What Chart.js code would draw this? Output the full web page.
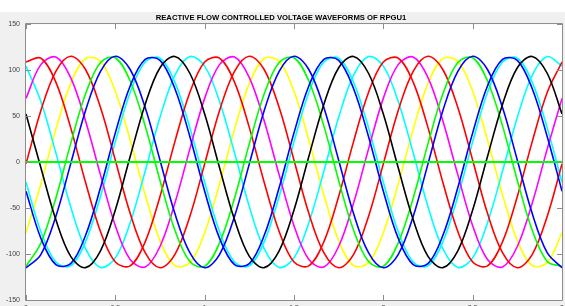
<!DOCTYPE html>
<html>
<head>
<meta charset="utf-8">
<script src="https://cdn.jsdelivr.net/npm/chart.js@4.4.0/dist/chart.umd.min.js"></script>
<style>
  html, body { margin: 0; padding: 0; overflow: hidden; background: #ffffff; width: 565px; height: 306px; }
  #wrap { width: 565px; height: 318px; }
</style>
</head>
<body>
<div id="wrap"><canvas id="c" width="565" height="318"></canvas></div>
<script>
const titleText = 'REACTIVE FLOW CONTROLLED VOLTAGE WAVEFORMS OF RPGU1';
const xTickLabels = ['0', '0.5', '1', '1.5', '2', '2.5', '3'];
const yTickLabels = ['-150', '-100', '-50', '0', '50', '100', '150'];

const xs = [0, 0.083, 0.167, 0.25, 0.333, 0.417, 0.5, 0.583, 0.667, 0.75, 0.833, 0.917,
            1, 1.083, 1.167, 1.25, 1.333, 1.417, 1.5, 1.583, 1.667, 1.75, 1.833, 1.917,
            2, 2.083, 2.167, 2.25, 2.333, 2.417, 2.5, 2.583, 2.667, 2.75, 2.833, 2.917, 3];

const redA = [108.7, 112.9, 86.8, 37.4, -21.9, -75.5, -108.7, -112.9, -86.8, -37.4, 21.9, 75.5,
              108.7, 112.9, 86.8, 37.4, -21.9, -75.5, -108.7, -112.9, -86.8, -37.4, 21.9, 75.5,
              108.7, 112.9, 86.8, 37.4, -21.9, -75.5, -108.7, -112.9, -86.8, -37.4, 21.9, 75.5, 108.7];
const magenta = [69.2, 105.9, 114.1, 91.8, 44.9, -14.0, -69.2, -105.9, -114.1, -91.8, -44.9, 14.0,
                 69.2, 105.9, 114.1, 91.8, 44.9, -14.0, -69.2, -105.9, -114.1, -91.8, -44.9, 14.0,
                 69.2, 105.9, 114.1, 91.8, 44.9, -14.0, -69.2, -105.9, -114.1, -91.8, -44.9, 14.0, 69.2];
const redB = [-2.0, 55.8, 98.6, 115.0, 100.6, 59.2, 2.0, -55.8, -98.6, -115.0, -100.6, -59.2,
              -2.0, 55.8, 98.6, 115.0, 100.6, 59.2, 2.0, -55.8, -98.6, -115.0, -100.6, -59.2,
              -2.0, 55.8, 98.6, 115.0, 100.6, 59.2, 2.0, -55.8, -98.6, -115.0, -100.6, -59.2, -2.0];
const yellow = [-76.9, -23.9, 35.5, 85.5, 112.5, 109.4, 76.9, 23.9, -35.5, -85.5, -112.5, -109.4,
                -76.9, -23.9, 35.5, 85.5, 112.5, 109.4, 76.9, 23.9, -35.5, -85.5, -112.5, -109.4,
                -76.9, -23.9, 35.5, 85.5, 112.5, 109.4, 76.9, 23.9, -35.5, -85.5, -112.5, -109.4, -76.9];
const green = [-113.3, -88.1, -39.3, 20.0, 73.9, 108.1, 113.3, 88.1, 39.3, -20.0, -73.9, -108.1,
               -113.3, -88.1, -39.3, 20.0, 73.9, 108.1, 113.3, 88.1, 39.3, -20.0, -73.9, -108.1,
               -113.3, -88.1, -39.3, 20.0, 73.9, 108.1, 113.3, 88.1, 39.3, -20.0, -73.9, -108.1, -113.3];
const blueA = [-115.0, -100.6, -59.2, -2.0, 55.8, 98.6, 115.0, 100.6, 59.2, 2.0, -55.8, -98.6,
               -115.0, -100.6, -59.2, -2.0, 55.8, 98.6, 115.0, 100.6, 59.2, 2.0, -55.8, -98.6,
               -115.0, -100.6, -59.2, -2.0, 55.8, 98.6, 115.0, 100.6, 59.2, 2.0, -55.8, -98.6, -115.0];
const blueB = [-31.7, -82.7, -111.6, -110.5, -79.9, -27.8, 31.7, 82.7, 111.6, 110.5, 79.9, 27.8,
               -31.7, -82.7, -111.6, -110.5, -79.9, -27.8, 31.7, 82.7, 111.6, 110.5, 79.9, 27.8,
               -31.7, -82.7, -111.6, -110.5, -79.9, -27.8, 31.7, 82.7, 111.6, 110.5, 79.9, 27.8, -31.7];
const cyanA = [-21.9, -75.5, -108.7, -112.9, -86.8, -37.4, 21.9, 75.5, 108.7, 112.9, 86.8, 37.4,
               -21.9, -75.5, -108.7, -112.9, -86.8, -37.4, 21.9, 75.5, 108.7, 112.9, 86.8, 37.4,
               -21.9, -75.5, -108.7, -112.9, -86.8, -37.4, 21.9, 75.5, 108.7, 112.9, 86.8, 37.4, -21.9];
const black = [52.2, -6.0, -62.6, -102.5, -114.8, -96.5, -52.2, 6.0, 62.6, 102.5, 114.8, 96.5,
               52.2, -6.0, -62.6, -102.5, -114.8, -96.5, -52.2, 6.0, 62.6, 102.5, 114.8, 96.5,
               52.2, -6.0, -62.6, -102.5, -114.8, -96.5, -52.2, 6.0, 62.6, 102.5, 114.8, 96.5, 52.2];
const cyanB = [104.2, 66.0, 10.0, -48.6, -94.2, -114.6, -104.2, -66.0, -10.0, 48.6, 94.2, 114.6,
               104.2, 66.0, 10.0, -48.6, -94.2, -114.6, -104.2, -66.0, -10.0, 48.6, 94.2, 114.6,
               104.2, 66.0, 10.0, -48.6, -94.2, -114.6, -104.2, -66.0, -10.0, 48.6, 94.2, 114.6, 104.2];
const zeroLine = [0, 0, 0, 0, 0, 0, 0, 0, 0, 0, 0, 0, 0, 0, 0, 0, 0, 0, 0, 0, 0, 0, 0, 0,
                  0, 0, 0, 0, 0, 0, 0, 0, 0, 0, 0, 0, 0];

const seriesList = [
  { name: 'zero', values: zeroLine, color: '#00ff00', width: 2.2 },
  { name: 'black', values: black, color: '#000000', width: 1.6 },
  { name: 'blueA', values: blueA, color: '#0000ff', width: 1.6 },
  { name: 'blueB', values: blueB, color: '#0000ff', width: 1.6 },
  { name: 'green', values: green, color: '#00ff00', width: 1.6 },
  { name: 'redA', values: redA, color: '#ff0000', width: 1.6 },
  { name: 'redB', values: redB, color: '#ff0000', width: 1.6 },
  { name: 'magenta', values: magenta, color: '#ff00ff', width: 1.6 },
  { name: 'cyanA', values: cyanA, color: '#00ffff', width: 1.6 },
  { name: 'cyanB', values: cyanB, color: '#00ffff', width: 1.6 },
  { name: 'yellow', values: yellow, color: '#ffff00', width: 1.6 }
];

const datasets = seriesList.map(s => ({
  label: s.name,
  data: xs.map((x, i) => ({ x: x, y: s.values[i] })),
  borderColor: s.color,
  borderWidth: s.width,
  pointRadius: 0,
  tension: s.name === 'zero' ? 0 : 0.35,
  fill: false
}));

const bgPlugin = {
  id: 'bg',
  beforeDraw(chart) {
    const { ctx, width, height, chartArea } = chart;
    ctx.save();
    ctx.fillStyle = '#ffffff';
    ctx.fillRect(0, 0, width, height);
    ctx.fillStyle = '#f0f0f0';
    ctx.fillRect(0, 12, width, height - 12);
    ctx.fillStyle = '#ffffff';
    ctx.fillRect(chartArea.left, chartArea.top, chartArea.right - chartArea.left, chartArea.bottom - chartArea.top);
    ctx.restore();
  }
};

const boxPlugin = {
  id: 'box',
  afterDraw(chart) {
    const { ctx, chartArea: { left, right, top, bottom }, scales: { x, y } } = chart;
    ctx.save();
    ctx.strokeStyle = '#8c8c8c';
    ctx.lineWidth = 1;
    ctx.beginPath();
    ctx.rect(left - 0.5, top - 0.5, right - left + 1, bottom - top + 1);
    ctx.stroke();
    ctx.beginPath();
    x.ticks.forEach(t => {
      const px = Math.round(x.getPixelForValue(t.value)) + 0.5;
      ctx.moveTo(px, bottom); ctx.lineTo(px, bottom - 5);
      ctx.moveTo(px, top); ctx.lineTo(px, top + 5);
    });
    y.ticks.forEach(t => {
      const py = Math.round(y.getPixelForValue(t.value)) + 0.5;
      ctx.moveTo(left, py); ctx.lineTo(left + 5, py);
      ctx.moveTo(right, py); ctx.lineTo(right - 5, py);
    });
    ctx.stroke();
    ctx.restore();
  }
};

new Chart(document.getElementById('c'), {
  type: 'line',
  data: { datasets: datasets },
  options: {
    responsive: false,
    animation: false,
    events: [],
    layout: { padding: { top: 12, left: 0, right: 3, bottom: 0 } },
    plugins: {
      legend: { display: false },
      tooltip: { enabled: false },
      title: {
        display: true,
        text: titleText,
        color: '#000000',
        font: { family: 'Liberation Sans, Arial, sans-serif', size: 7.7, weight: 'bold', lineHeight: 1.2 },
        padding: { top: 1, bottom: 1.8 }
      }
    },
    scales: {
      x: {
        type: 'linear',
        min: 0, max: 3,
        grid: { display: false, drawTicks: false },
        border: { display: false },
        ticks: {
          stepSize: 0.5,
          padding: 4,
          maxRotation: 0,
          autoSkip: false,
          color: '#404040',
          font: { family: 'Liberation Sans, Arial, sans-serif', size: 7 },
          callback: (v, i) => xTickLabels[i]
        },
        afterFit(scale) { scale.height = 18; scale.paddingLeft = 0; scale.paddingRight = 0; }
      },
      y: {
        type: 'linear',
        min: -150, max: 150,
        grid: { display: false, drawTicks: false },
        border: { display: false },
        ticks: {
          stepSize: 50,
          padding: 6,
          color: '#404040',
          font: { family: 'Liberation Sans, Arial, sans-serif', size: 7 },
          callback: (v, i) => yTickLabels[i]
        },
        afterFit(scale) { scale.width = 26; }
      }
    }
  },
  plugins: [bgPlugin, boxPlugin]
});
</script>
</body>
</html>
